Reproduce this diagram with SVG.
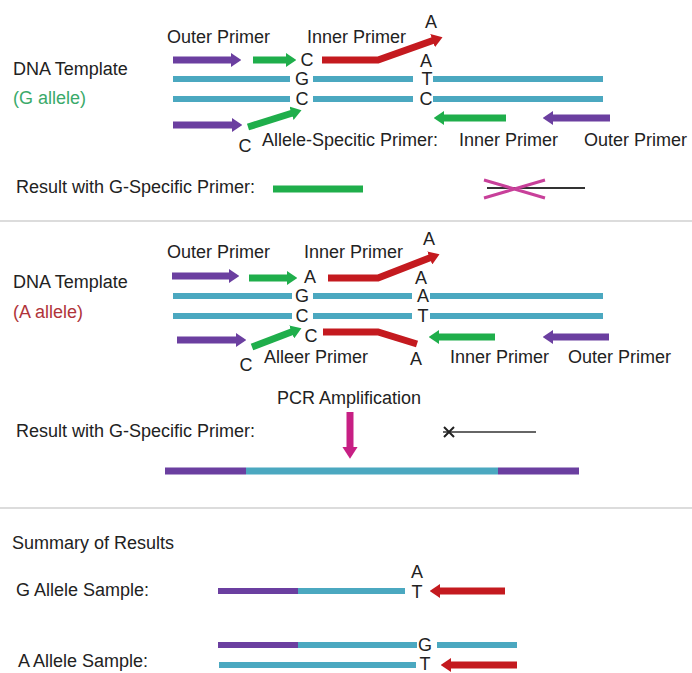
<svg xmlns="http://www.w3.org/2000/svg" width="692" height="673" viewBox="0 0 692 673">
<style>
text{font-family:"Liberation Sans",Arial,sans-serif;font-size:18px;fill:#222}
.c{text-anchor:middle}
.gt{fill:#3aaa6a}
.rt{fill:#b0343a}
.dna{stroke:#4ba8c0;stroke-width:6;fill:none}
.pu{stroke:#6b3fa0;stroke-width:7;fill:none}
.gr{stroke:#1fae4b;stroke-width:7;fill:none}
.rd{stroke:#c41a1f;stroke-width:7;fill:none;stroke-linejoin:miter}
.mg{stroke:#c71f84;stroke-width:7;fill:none}
.sep{stroke:#d0d0d0;stroke-width:1.5}
</style>
<defs>
<marker id="hPu" viewBox="0 0 10 10" refX="1" refY="5" markerWidth="1.5" markerHeight="2" orient="auto" preserveAspectRatio="none" markerUnits="strokeWidth"><path d="M0,0 L10,5 L0,10 z" fill="#6b3fa0"/></marker>
<marker id="hGr" viewBox="0 0 10 10" refX="1" refY="5" markerWidth="1.5" markerHeight="2" orient="auto" preserveAspectRatio="none" markerUnits="strokeWidth"><path d="M0,0 L10,5 L0,10 z" fill="#1fae4b"/></marker>
<marker id="hRd" viewBox="0 0 10 10" refX="1" refY="5" markerWidth="1.5" markerHeight="2" orient="auto" preserveAspectRatio="none" markerUnits="strokeWidth"><path d="M0,0 L10,5 L0,10 z" fill="#c41a1f"/></marker>
<marker id="hMg" viewBox="0 0 10 10" refX="1" refY="5" markerWidth="1.7" markerHeight="2.2" orient="auto" preserveAspectRatio="none" markerUnits="strokeWidth"><path d="M0,0 L10,5 L0,10 z" fill="#c71f84"/></marker>
</defs>
<rect width="692" height="673" fill="#fff"/>

<!-- Section 1: G allele -->
<g id="sec1-labels">
<text x="13" y="75">DNA Template</text>
<text x="13" y="104" class="gt">(G allele)</text>
<text x="167" y="43">Outer Primer</text>
<text x="307" y="43">Inner Primer</text>
<text x="262" y="146">Allele-Specitic Primer:</text>
<text x="459" y="146">Inner Primer</text>
<text x="584" y="146">Outer Primer</text>
<text x="16" y="193">Result with G-Specific Primer:</text>
</g>
<g id="sec1-template">
<path class="dna" d="M173,79H290M313,79H413M433,79H603"/>
<path class="dna" d="M173,99H290M313,99H413M433,99H603"/>
<text x="302" y="85" class="c">G</text>
<text x="427" y="85" class="c">T</text>
<text x="302" y="105" class="c">C</text>
<text x="426" y="105" class="c">C</text>
</g>
<g id="sec1-primers">
<path class="pu" d="M173,60H232" marker-end="url(#hPu)"/>
<path class="gr" d="M253,60H287" marker-end="url(#hGr)"/>
<text x="307" y="66" class="c">C</text>
<path class="rd" d="M322,60H378L433.6,40.3" marker-end="url(#hRd)"/>
<text x="431" y="28" class="c">A</text>
<text x="426" y="67" class="c">A</text>
<path class="pu" d="M173,125H233" marker-end="url(#hPu)"/>
<path class="gr" d="M248,127L292.5,113" marker-end="url(#hGr)"/>
<text x="245" y="152" class="c">C</text>
<path class="gr" d="M506,118H443" marker-end="url(#hGr)"/>
<path class="pu" d="M610,118H552" marker-end="url(#hPu)"/>
</g>
<g id="sec1-result">
<path d="M273,189H363" stroke="#1fae4b" stroke-width="7"/>
<path d="M487,188H585" stroke="#333" stroke-width="2"/>
<path d="M484,180L545,198M484,198L545,180" stroke="#c8409a" stroke-width="3"/>
</g>
<line class="sep" x1="0" y1="221" x2="692" y2="221"/>

<!-- Section 2: A allele -->
<g id="sec2-labels">
<text x="13" y="288">DNA Template</text>
<text x="13" y="318" class="rt">(A allele)</text>
<text x="167" y="258">Outer Primer</text>
<text x="304" y="258">Inner Primer</text>
<text x="264" y="363">Alleer Primer</text>
<text x="450" y="363">Inner Primer</text>
<text x="568" y="363">Outer Primer</text>
</g>
<g id="sec2-template">
<path class="dna" d="M173,296H292M313,296H412M430,296H603"/>
<path class="dna" d="M173,316H292M313,316H412M430,316H603"/>
<text x="302" y="302" class="c">G</text>
<text x="423" y="302" class="c">A</text>
<text x="302" y="322" class="c">C</text>
<text x="423" y="322" class="c">T</text>
</g>
<g id="sec2-primers">
<path class="pu" d="M172,276H230" marker-end="url(#hPu)"/>
<path class="gr" d="M249,278H288" marker-end="url(#hGr)"/>
<text x="310" y="283" class="c">A</text>
<path class="rd" d="M328,278H378L430.7,257.6" marker-end="url(#hRd)"/>
<text x="429" y="245" class="c">A</text>
<text x="421" y="284" class="c">A</text>
<path class="pu" d="M177,340H237" marker-end="url(#hPu)"/>
<path class="gr" d="M252,347L292.6,331.6" marker-end="url(#hGr)"/>
<text x="311" y="342" class="c">C</text>
<path class="rd" d="M323,332H378L417,344"/>
<text x="416" y="365" class="c">A</text>
<text x="246" y="371" class="c">C</text>
<path class="gr" d="M495,337H438" marker-end="url(#hGr)"/>
<path class="pu" d="M609,337H552" marker-end="url(#hPu)"/>
</g>
<g id="sec2-result">
<text x="277" y="404">PCR Amplification</text>
<path class="mg" d="M350,412V448" marker-end="url(#hMg)"/>
<text x="16" y="437">Result with G-Specific Primer:</text>
<path d="M443,432H536" stroke="#333" stroke-width="1.5"/>
<path d="M444,427L454,437M444,437L454,427" stroke="#222" stroke-width="2"/>
<path d="M165,471H246" stroke="#6b3fa0" stroke-width="7"/>
<path d="M246,471H498" stroke="#4ba8c0" stroke-width="7"/>
<path d="M498,471H579" stroke="#6b3fa0" stroke-width="7"/>
</g>
<line class="sep" x1="0" y1="508" x2="692" y2="508"/>

<!-- Section 3: Summary -->
<g id="summary">
<text x="12" y="549">Summary of Results</text>
<text x="16" y="596">G Allele Sample:</text>
<text x="18" y="667">A Allele Sample:</text>
<path d="M218,591H298" stroke="#6b3fa0" stroke-width="6"/>
<path d="M298,591H405" stroke="#4ba8c0" stroke-width="6"/>
<text x="417" y="578" class="c">A</text>
<text x="417" y="598" class="c">T</text>
<path class="rd" d="M505,591H439" marker-end="url(#hRd)"/>
<path d="M218,645H298" stroke="#6b3fa0" stroke-width="6"/>
<path d="M298,645H417M437,645H517" stroke="#4ba8c0" stroke-width="6"/>
<text x="425" y="651" class="c">G</text>
<path d="M219,665H416" stroke="#4ba8c0" stroke-width="6"/>
<text x="425" y="670" class="c">T</text>
<path class="rd" d="M517,665H450" marker-end="url(#hRd)"/>
</g>
</svg>
